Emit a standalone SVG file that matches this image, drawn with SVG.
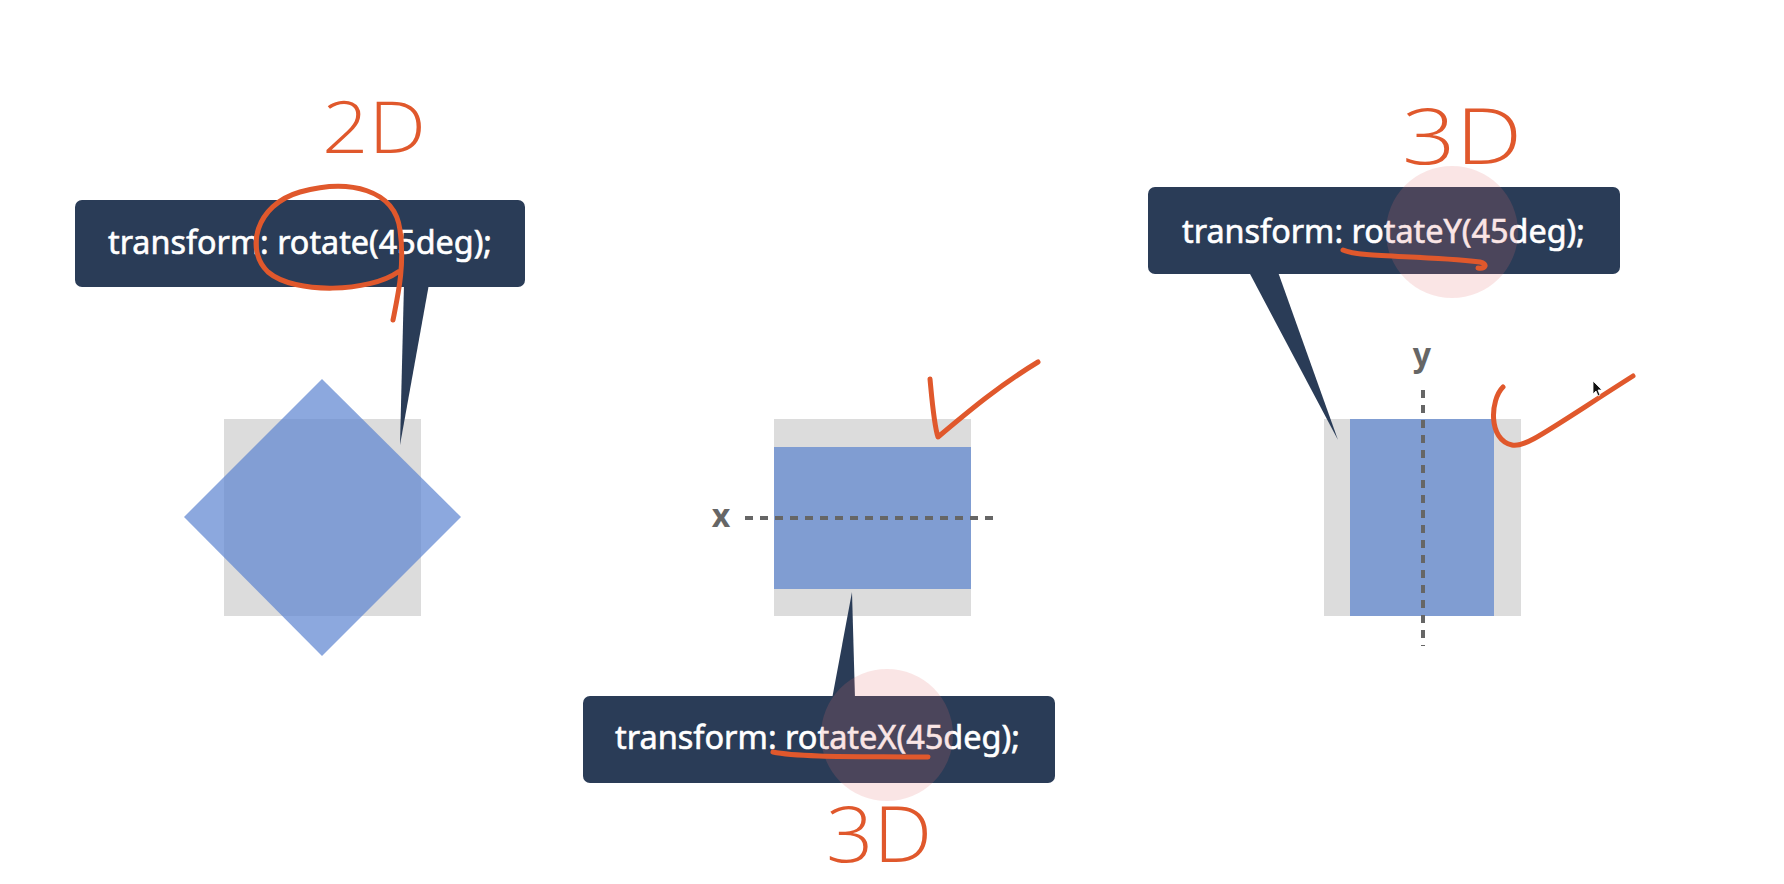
<svg xmlns="http://www.w3.org/2000/svg" width="1784" height="884" viewBox="0 0 1784 884">
  <style>
    .box { fill: #2a3c57; }
    .code { font-family: "Noto Sans", "Open Sans", "Liberation Sans", sans-serif; font-size: 32px; fill: #ffffff; stroke: #ffffff; stroke-width: 0.6; }
    .gray { fill: #dcdcdc; }
    .blue { fill: #809dd2; }
    .axis { stroke: #666666; stroke-width: 4; stroke-dasharray: 8 7; fill: none; }
    .axislbl { font-family: "Noto Sans", "Liberation Sans", sans-serif; font-size: 32px; font-weight: 700; fill: #666666; text-anchor: middle; }
    .pen { fill: none; stroke: #e0582c; stroke-width: 5; stroke-linecap: round; stroke-linejoin: round; }
    .hand { font-family: "Open Sans", "Liberation Sans", sans-serif; font-weight: 300; fill: #e0582c; }
    .glow { fill: rgb(225,110,110); opacity: 0.18; }
  </style>
  <rect width="1784" height="884" fill="#ffffff"/>

  <!-- Example 1: rotate (2D) -->
  <g id="shape-rotate">
    <rect class="gray" x="224" y="419" width="197" height="197"/>
    <polygon points="322,379 461,517 322,656 184,517" fill="rgb(95,134,209)" opacity="0.72"/>
  </g>
  <g id="label-rotate">
    <polygon class="box" points="404,284 429,284 400,445"/>
    <rect class="box" x="75" y="200" width="450" height="87" rx="7"/>
    <text class="code" x="108" y="254" textLength="384" lengthAdjust="spacingAndGlyphs">transform: rotate(45deg);</text>
  </g>

  <!-- Example 2: rotateX (3D) -->
  <g id="shape-rotateX">
    <rect class="gray" x="774" y="419" width="197" height="197"/>
    <rect class="blue" x="774" y="447" width="197" height="142"/>
    <line class="axis" x1="745" y1="518" x2="1000" y2="518"/>
    <text class="axislbl" x="721" y="527">x</text>
  </g>
  <g id="label-rotateX">
    <polygon class="box" points="832,699 855,699 852,592"/>
    <rect class="box" x="583" y="696" width="472" height="87" rx="7"/>
    <text class="code" x="615" y="749" textLength="405" lengthAdjust="spacingAndGlyphs">transform: rotateX(45deg);</text>
    <circle class="glow" cx="887" cy="735" r="66"/>
  </g>

  <!-- Example 3: rotateY (3D) -->
  <g id="shape-rotateY">
    <rect class="gray" x="1324" y="419" width="197" height="197"/>
    <rect class="blue" x="1350" y="419" width="144" height="197"/>
    <line class="axis" x1="1423" y1="390" x2="1423" y2="646"/>
    <text class="axislbl" x="1422" y="366">y</text>
  </g>
  <g id="label-rotateY">
    <polygon class="box" points="1249,272 1278,272 1338,440"/>
    <rect class="box" x="1148" y="187" width="472" height="87" rx="7"/>
    <text class="code" x="1182" y="243" textLength="403" lengthAdjust="spacingAndGlyphs">transform: rotateY(45deg);</text>
    <circle class="glow" cx="1452" cy="232" r="66"/>
  </g>

  <!-- Hand-drawn annotations -->
  <g id="annotations">
    <path class="pen" d="M398,272 C370,292 295,295 268,272 C245,250 255,205 300,192 C350,178 395,190 400,230 C405,265 398,295 393,320"/>
    <text class="hand" x="322" y="153" font-size="72" textLength="104" lengthAdjust="spacingAndGlyphs">2D</text>
    <path class="pen" d="M773,752 C800,758 880,756 928,757"/>
    <text class="hand" x="826" y="862" font-size="78" textLength="106" lengthAdjust="spacingAndGlyphs">3D</text>
    <path class="pen" d="M1343,250 C1360,258 1420,255 1480,262 C1488,264 1486,269 1478,268"/>
    <text class="hand" x="1402" y="164" font-size="78" textLength="120" lengthAdjust="spacingAndGlyphs">3D</text>
    <path class="pen" d="M930,379 C932,400 934,425 938,437 C970,410 1000,385 1038,362"/>
    <path class="pen" d="M1503,387 C1490,400 1488,440 1512,445 C1525,448 1545,432 1633,376"/>
  </g>
  <g id="cursor">
    <polygon points="1593,381 1593,394 1596,391 1598,396 1600,395 1598,390 1602,390" fill="#111111" stroke="#ffffff" stroke-width="0.8"/>
  </g>
</svg>
